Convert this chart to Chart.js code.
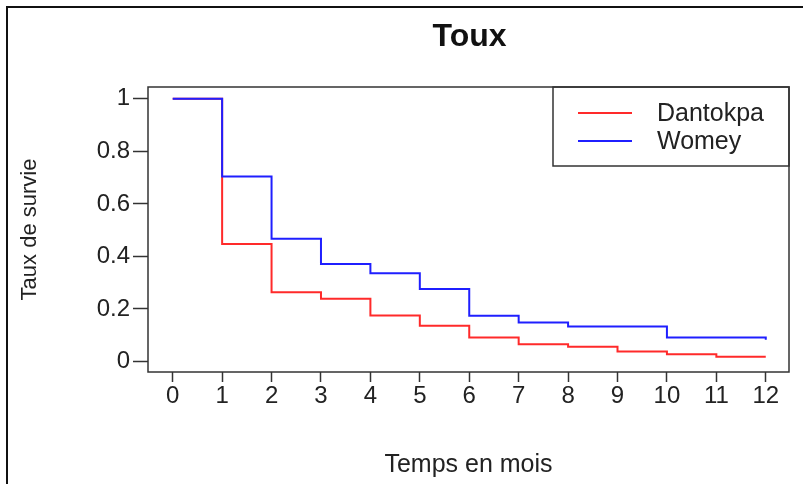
<!DOCTYPE html>
<html>
<head>
<meta charset="utf-8">
<script src="https://cdn.jsdelivr.net/npm/chart.js@4"></script>
<style>
  html, body { margin: 0; padding: 0; background: #fff; }
  canvas { display: block; }
</style>
</head>
<body>
<canvas id="survivalChart" width="803" height="484"></canvas>
<script>
const months = [0, 1, 2, 3, 4, 5, 6, 7, 8, 9, 10, 11, 12];
const dantokpa = [1, 0.447, 0.264, 0.239, 0.175, 0.136, 0.091, 0.066, 0.056, 0.038, 0.028, 0.018, 0.018];
const womey = [1, 0.704, 0.467, 0.371, 0.336, 0.276, 0.174, 0.148, 0.133, 0.133, 0.091, 0.091, 0.083];
const xTicks = [0, 1, 2, 3, 4, 5, 6, 7, 8, 9, 10, 11, 12];
const yTicks = [0, 0.2, 0.4, 0.6, 0.8, 1];
const yTickLabels = ["0", "0.2", "0.4", "0.6", "0.8", "1"];

const FONT = "'Liberation Sans', Arial, sans-serif";
const AXIS = "#333";

function toPoints(values) {
  return months.map((m, i) => ({ x: m, y: values[i] }));
}

// frame, plot box, title and boxed legend
const decorations = {
  id: "decorations",
  afterDraw(chart) {
    const { ctx, chartArea: a } = chart;
    ctx.save();

    ctx.strokeStyle = "#111";
    ctx.lineWidth = 2;
    ctx.beginPath();
    ctx.moveTo(7, 484);
    ctx.lineTo(7, 7);
    ctx.lineTo(803, 7);
    ctx.stroke();

    ctx.strokeStyle = AXIS;
    ctx.lineWidth = 1.5;
    ctx.strokeRect(a.left, a.top, a.right - a.left, a.bottom - a.top);

    ctx.fillStyle = "#111";
    ctx.font = "bold 32px " + FONT;
    ctx.textAlign = "center";
    ctx.textBaseline = "middle";
    ctx.fillText("Toux", (a.left + a.right) / 2 + 1, 37);

    const boxLeft = 553, boxBottom = 166;
    ctx.strokeStyle = AXIS;
    ctx.lineWidth = 1.5;
    ctx.strokeRect(boxLeft, a.top, a.right - boxLeft, boxBottom - a.top);

    ctx.font = "25px " + FONT;
    ctx.textAlign = "left";
    chart.data.datasets.forEach((ds, i) => {
      const y = 113 + i * 28;
      ctx.strokeStyle = ds.borderColor;
      ctx.lineWidth = 2;
      ctx.beginPath();
      ctx.moveTo(578, y);
      ctx.lineTo(632, y);
      ctx.stroke();
      ctx.fillStyle = "#222";
      ctx.fillText(ds.label, 657, y + 1);
    });

    ctx.restore();
  }
};

new Chart(document.getElementById("survivalChart"), {
  type: "line",
  data: {
    datasets: [
      {
        label: "Dantokpa",
        data: toPoints(dantokpa),
        borderColor: "#ff2a2a",
        order: 1
      },
      {
        label: "Womey",
        data: toPoints(womey),
        borderColor: "#1f1fff",
        order: 0
      }
    ]
  },
  options: {
    responsive: false,
    animation: false,
    layout: { padding: { top: 87, right: 14, bottom: 0, left: 0 } },
    elements: {
      line: { borderWidth: 2, stepped: "before", tension: 0, fill: false },
      point: { radius: 0, hoverRadius: 0 }
    },
    plugins: {
      legend: { display: false },
      title: { display: false },
      tooltip: { enabled: false }
    },
    scales: {
      x: {
        type: "linear",
        min: -0.5,
        max: 12.47,
        afterBuildTicks: scale => { scale.ticks = xTicks.map(v => ({ value: v })); },
        afterFit: scale => { scale.height = 112; },
        grid: { drawOnChartArea: false, drawTicks: true, tickLength: 10, tickWidth: 1.5, tickColor: AXIS },
        border: { display: false },
        ticks: {
          color: "#222",
          padding: 0,
          maxRotation: 0,
          autoSkip: false,
          font: { family: FONT, size: 24 }
        },
        title: {
          display: true,
          text: "Temps en mois",
          color: "#222",
          font: { family: FONT, size: 25 },
          padding: { top: 0, bottom: 4 }
        }
      },
      y: {
        type: "linear",
        min: -0.04,
        max: 1.045,
        afterBuildTicks: scale => { scale.ticks = yTicks.map(v => ({ value: v })); },
        afterFit: scale => { scale.width = 148; },
        grid: { drawOnChartArea: false, drawTicks: true, tickLength: 15, tickWidth: 1.5, tickColor: AXIS },
        border: { display: false },
        ticks: {
          color: "#222",
          padding: 3,
          autoSkip: false,
          font: { family: FONT, size: 24 },
          callback: (value) => {
            const i = yTicks.indexOf(value);
            return i >= 0 ? yTickLabels[i] : "";
          }
        },
        title: {
          display: true,
          text: "Taux de survie",
          color: "#222",
          font: { family: FONT, size: 22 },
          padding: { top: 17, bottom: 0 }
        }
      }
    }
  },
  plugins: [decorations]
});
</script>
</body>
</html>
